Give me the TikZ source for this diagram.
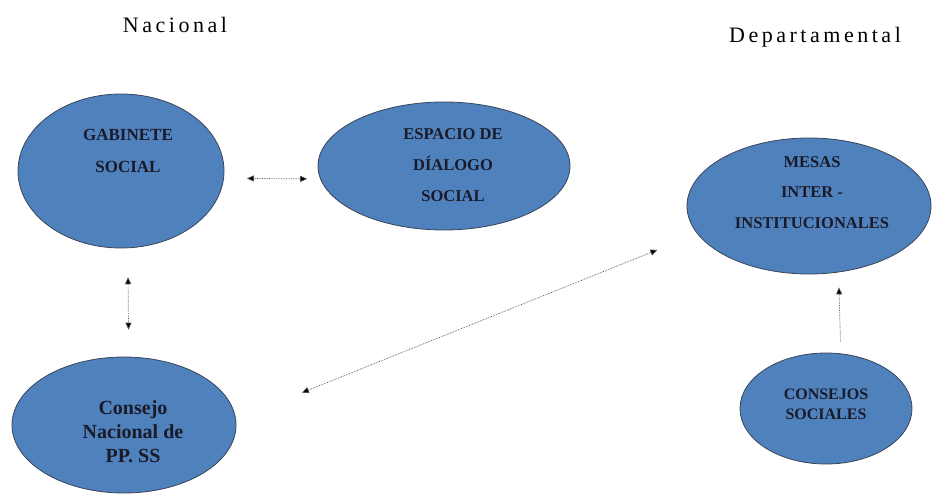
\documentclass[tikz,border=0pt]{standalone}
\usepackage{fontspec}
\setmainfont{Liberation Serif}
\newfontfamily\headfont[LetterSpace=16]{Liberation Serif}
\usetikzlibrary{shapes.geometric, arrows.meta}

\definecolor{cellblue}{RGB}{79,129,189}
\definecolor{celledge}{RGB}{58,68,88}
\definecolor{cellink}{RGB}{26,26,40}

% text inside a cell: x offset (twice), raise, lines
\newcommand\celltext[3]{\makebox[0pt]{\hspace*{#1}\raisebox{#2}[0pt][0pt]{\begin{tabular}{@{}c@{}}#3\end{tabular}}}}

\begin{document}
\begin{tikzpicture}[x=1pt, y=-1pt,
		cell/.style={ellipse, draw=celledge, line width=0.8pt, fill=cellblue, inner sep=0pt, text=cellink},
		head/.style={anchor=base, font=\headfont\fontsize{22}{26}\selectfont},
		link/.style={densely dotted, line width=0.7pt, draw=black!70, >={Triangle[length=7pt, width=6pt, fill=black]}}]
		\useasboundingbox (0,0) rectangle (933,503);

		% headings
		\node[head] (nac) at (175,33) {Nacional};
		\node[head] (dep) at (815,43) {Departamental};

		% national level
		\node[cell, minimum width=206pt, minimum height=154pt, font=\bfseries\fontsize{17}{32}\selectfont] (gab) at (121,171)
			{\celltext{14pt}{17pt}{GABINETE\\SOCIAL}};
		\node[cell, minimum width=252pt, minimum height=128pt, font=\bfseries\fontsize{16.5}{31}\selectfont] (esp) at (444,166)
			{\celltext{18pt}{-3pt}{ESPACIO DE\\DÍALOGO\\SOCIAL}};
		\node[cell, minimum width=224pt, minimum height=136pt, font=\bfseries\fontsize{20}{24}\selectfont] (cnp) at (124,425)
			{\celltext{18pt}{-14pt}{Consejo\\Nacional de\\PP. SS}};

		% departmental level
		\node[cell, minimum width=244pt, minimum height=136pt, font=\bfseries\fontsize{16.5}{30.5}\selectfont] (mesas) at (809,206)
			{\celltext{6pt}{10pt}{MESAS\\INTER -\\INSTITUCIONALES}};
		\node[cell, minimum width=172pt, minimum height=111pt, font=\bfseries\fontsize{16}{20}\selectfont] (cs) at (826,408.5)
			{\celltext{0pt}{-1pt}{CONSEJOS\\SOCIALES}};

		% two-way links
		\foreach \from / \to / \s / \e in {gab.-4/esp.186/23/13, gab.-85/cnp.86/29/27, cnp.3/mesas.194/71/43}{
			\draw[link, <->, shorten <=\s pt, shorten >=\e pt] (\from) -- (\to);
		}

		% one-way link
		\draw[link, ->, shorten <=12pt, shorten >=15pt] (cs.75) -- (mesas.-66);

	\end{tikzpicture}
\end{document}
